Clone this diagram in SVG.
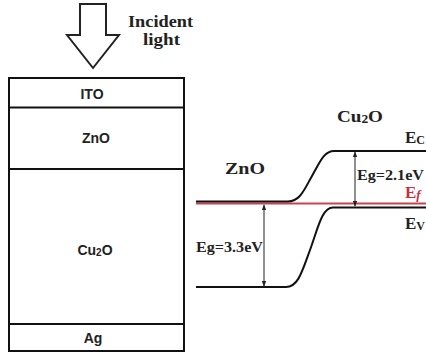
<svg xmlns="http://www.w3.org/2000/svg" width="426" height="356" viewBox="0 0 426 356">
<style>
.ln{stroke:#111;stroke-width:2;fill:none}
.thin{stroke:#222;stroke-width:1;fill:none}
.sans{font-family:"Liberation Sans",Arial,sans-serif;font-weight:bold;font-size:14px;fill:#222;text-anchor:middle}
.ser{font-family:"Liberation Serif","Times New Roman",serif;font-weight:bold;fill:#222}
</style>
<defs>
<marker id="ah" viewBox="0 0 8 8" refX="7" refY="4" markerWidth="6" markerHeight="6" orient="auto-start-reverse" markerUnits="userSpaceOnUse">
<path d="M0,1 L8,4 L0,7 Z" fill="#222"/>
</marker>
</defs>
<rect width="426" height="356" fill="#fff"/>
<g id="light">
<polygon points="80,4 106,4 106,35 119,35 93,68 67,35 80,35" fill="#fff" stroke="#222" stroke-width="2" stroke-linejoin="miter"/>
<text class="ser" x="128" y="27" font-size="17" textLength="65" lengthAdjust="spacingAndGlyphs">Incident</text>
<text class="ser" x="143" y="45" font-size="17" textLength="37" lengthAdjust="spacingAndGlyphs">light</text>
</g>
<g id="stack">
<rect x="9" y="78" width="175" height="273" class="ln"/>
<line x1="9" y1="107.5" x2="184" y2="107.5" class="ln"/>
<line x1="9" y1="169" x2="184" y2="169" class="ln"/>
<line x1="9" y1="324" x2="184" y2="324" class="ln"/>
<g id="ITO"><text class="sans" x="92" y="99">ITO</text></g>
<g id="ZnO-layer"><text class="sans" x="96" y="143">ZnO</text></g>
<g id="Cu2O-layer"><text class="sans" x="95" y="255">Cu<tspan font-size="10" dy="1">2</tspan><tspan dy="-1">O</tspan></text></g>
<g id="Ag"><text class="sans" x="93" y="343">Ag</text></g>
</g>
<g id="bands">
<line x1="196" y1="203.5" x2="426" y2="203.5" stroke="#cc4050" stroke-width="2"/>
<path class="ln" d="M196,201.5 L288,201.5 C300,201.5 304,190 312,176 C320,162 324,151 334,151 L426,151"/>
<path class="ln" d="M196,287 L286,287 C298,287 302,272 310,250 C318,228 322,207.5 333,207.5 L426,207.5"/>
<line class="thin" x1="264" y1="205" x2="264" y2="286" marker-start="url(#ah)" marker-end="url(#ah)"/>
<line class="thin" x1="355" y1="152" x2="355" y2="206" marker-start="url(#ah)" marker-end="url(#ah)"/>
</g>
<g id="labels">
<text class="ser" x="337" y="122" font-size="17" textLength="46" lengthAdjust="spacingAndGlyphs">Cu<tspan font-size="12" dy="1">2</tspan><tspan dy="-1">O</tspan></text>
<text class="ser" x="225" y="174" font-size="17" textLength="40" lengthAdjust="spacingAndGlyphs">ZnO</text>
<text class="ser" x="196" y="252" font-size="14" textLength="67" lengthAdjust="spacingAndGlyphs">Eg=3.3eV</text>
<text class="ser" x="357" y="180" font-size="14" textLength="67" lengthAdjust="spacingAndGlyphs">Eg=2.1eV</text>
<text class="ser" x="405" y="143" font-size="17">E<tspan font-size="12" dy="1">C</tspan></text>
<text class="ser" x="405" y="198" font-size="17" style="fill:#c8303c">E<tspan font-size="13" font-style="italic" dy="1">f</tspan></text>
<text class="ser" x="405" y="229" font-size="17">E<tspan font-size="12" dy="1">V</tspan></text>
</g>
</svg>
